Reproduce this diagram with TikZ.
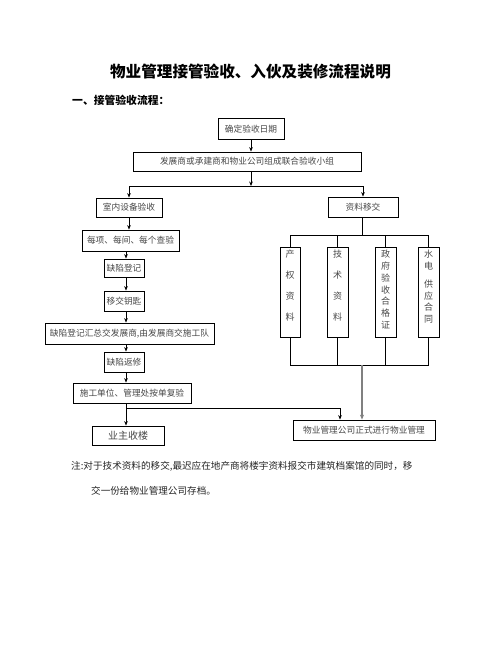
\documentclass[tikz,border=0pt]{standalone}
\usepackage{fontspec}
\setmainfont{Noto Sans CJK SC}
\usetikzlibrary{arrows.meta}
\begin{document}
\begin{tikzpicture}[x=1pt,y=-1pt,
  box/.style={draw, line width=0.8pt, inner sep=0pt, text=black!72, font=\fontsize{8.7}{10}\selectfont},
  vbox/.style={draw, line width=0.8pt, inner sep=0pt, minimum width=21, minimum height=90, anchor=north, text=black!72, font=\fontsize{9}{11.7}\selectfont},
  arr/.style={-{Stealth[length=4.5pt,width=3.6pt]}, line width=0.7pt},
  ln/.style={line width=0.7pt},
  thk/.style={-{Stealth[length=5pt,width=4pt]}, line width=1.8pt, draw=gray},
]
\fill[white] (0,0) rectangle (502,649);
\useasboundingbox (0,0) rectangle (502,649);

\node[font=\fontsize{15.6}{18}\selectfont\bfseries] (title) at (250.5,72) {物业管理接管验收、入伙及装修流程说明};
\node[font=\fontsize{10.8}{13}\selectfont\bfseries, anchor=west, inner sep=0pt] (head) at (72,100) {一、接管验收流程：};

% top
\node[box, minimum width=66, minimum height=21] (d1) at (251,129) {确定验收日期};
\node[box, minimum width=228, minimum height=19] (d2) at (247,161.5) {发展商或承建商和物业公司组成联合验收小组};
\coordinate (j1) at (251,186);
\node[box, minimum width=66, minimum height=19] (d3) at (129,207.5) {室内设备验收};
\node[box, minimum width=70, minimum height=20] (d4) at (363,207) {资料移交};

\draw[arr] (d1.south) -- (d1.south |- d2.north);
\draw[arr] (d2.south -| j1) -- (j1);
\draw[ln] (d3.north |- j1) -- (d4.north |- j1);
\draw[arr] (d3.north |- j1) -- (d3.north);
\draw[arr] (d4.north |- j1) -- (d4.north);

% left chain
\coordinate (cx) at (126,0);
\node[box, minimum width=97, minimum height=21] (a1) at (130.5,240.5) {每项、每间、每个查验};
\node[box, minimum width=40, minimum height=18] (a2) at (124,268) {缺陷登记};
\node[box, minimum width=40, minimum height=20] (a3) at (124,301) {移交钥匙};
\node[box, minimum width=169, minimum height=21] (a4) at (129.5,333.5) {缺陷登记汇总交发展商,由发展商交施工队};
\node[box, minimum width=40, minimum height=20] (a5) at (124,362) {缺陷返修};
\node[box, minimum width=118, minimum height=20] (a6) at (132,393) {施工单位、管理处按单复验};
\node[box, minimum width=72, minimum height=19, font=\fontsize{10}{12}\selectfont] (a7) at (128,435.5) {业主收楼};

\draw[arr] (d3.south) -- (d3.south |- a1.north);
\draw[arr] (a1.south -| cx) -- (a2.north -| cx);
\draw[arr] (a2.south -| cx) -- (a3.north -| cx);
\draw[arr] (a3.south -| cx) -- (a4.north -| cx);
\draw[arr] (a4.south -| cx) -- (a5.north -| cx);
\draw[arr] (a5.south -| cx) -- (a6.north -| cx);
\draw[arr] (a6.south -| cx) -- (a7.north -| cx);

% right side
\node[vbox, minimum width=20] (v1) at (290,247) {\parbox[c][90pt][t]{20pt}{\centering\vspace*{3pt}产\\[9.3pt]权\\[9.3pt]资\\[9.3pt]料}};
\node[vbox] (v2) at (337.5,247) {\parbox[c][90pt][t]{21pt}{\centering\vspace*{3pt}技\\[9.3pt]术\\[9.3pt]资\\[9.3pt]料}};
\node[vbox] (v3) at (385.5,247) {\parbox[c][90pt][t]{21pt}{\centering\vspace*{3pt}政\\府\\验\\收\\合\\格\\证}};
\node[vbox] (v4) at (428.5,247) {\parbox[c][90pt][t]{21pt}{\centering\vspace*{3pt}水\\电\\[6pt]供\\应\\合\\同}};
\node[box, minimum width=142, minimum height=20] (f) at (364,430) {物业管理公司正式进行物业管理};

\coordinate (j4) at (362,235);
\coordinate (j5) at (362,365);
\draw[ln] (d4.south -| j4) -- (j4);
\draw[ln] (v1.north |- j4) -- (v4.north |- j4);
\foreach \v in {v1,v2,v3,v4}{
  \draw[ln] (\v.north |- j4) -- (\v.north);
  \draw[ln] (\v.south) -- (\v.south |- j5);
}
\draw[ln] (v1.south |- j5) -- (v4.south |- j5);
\draw[thk] (j5) -- (j5 |- f.north);

% merge from left
\coordinate (j2) at (126,408);
\coordinate (j3) at (340,408);
\draw[ln] (j2) -- (j3);
\draw[arr] (j3) -- (j3 |- f.north);

% note
\node[anchor=north west, align=left, text=black!85, font=\fontsize{9.6}{25}\selectfont, inner sep=0pt] (note) at (71,461) {注:对于技术资料的移交,最迟应在地产商将楼宇资料报交市建筑档案馆的同时，移\\\hspace*{20pt}交一份给物业管理公司存档。};
\end{tikzpicture}
\end{document}
